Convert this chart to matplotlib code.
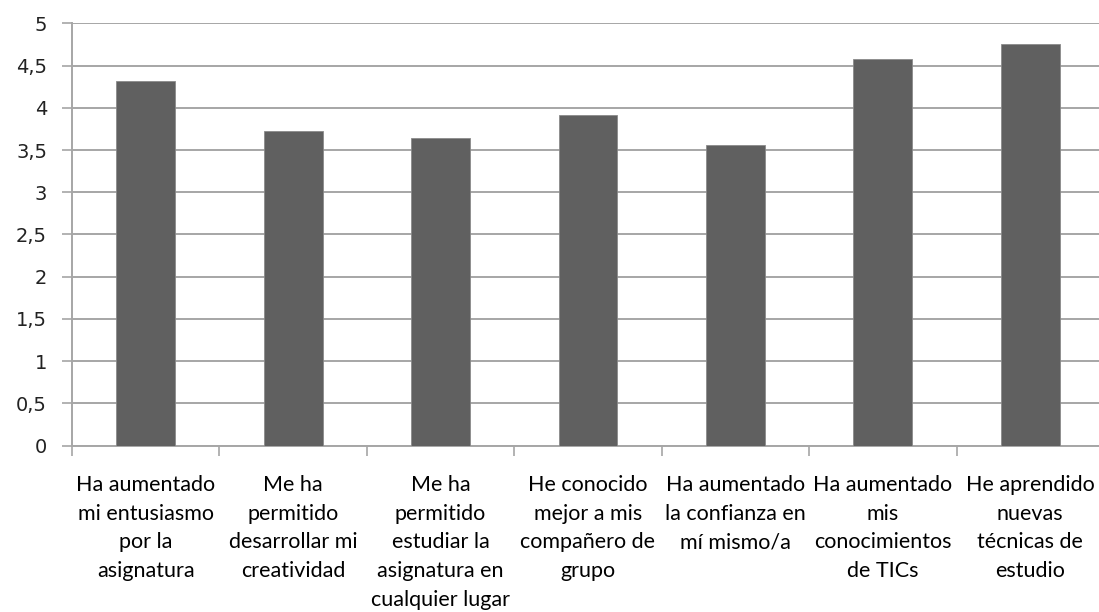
import matplotlib.pyplot as plt
from matplotlib.ticker import FixedLocator, FuncFormatter

categories = [
    "Ha aumentado\nmi entusiasmo\npor la\nasignatura",
    "Me ha\npermitido\ndesarrollar mi\ncreatividad",
    "Me ha\npermitido\nestudiar la\nasignatura en\ncualquier lugar",
    "He conocido\nmejor a mis\ncompañero de\ngrupo",
    "Ha aumentado\nla confianza en\nmí mismo/a",
    "Ha aumentado\nmis\nconocimientos\nde TICs",
    "He aprendido\nnuevas\ntécnicas de\nestudio",
]
values = [4.32, 3.73, 3.64, 3.91, 3.56, 4.58, 4.76]
yticks = [0, 0.5, 1, 1.5, 2, 2.5, 3, 3.5, 4, 4.5, 5]

grey = "#a6a6a6"

fig = plt.figure(figsize=(10.99, 6.12), dpi=100)
ax = fig.add_axes([72 / 1099, 1 - 445.7 / 612, 1032 / 1099, 422.4 / 612])

x = list(range(len(categories)))
ax.bar(x, values, width=0.4, color="#606060", edgecolor="#8a8a8a", linewidth=0.6, zorder=3)

ax.set_xlim(-0.5, len(categories) - 0.5)
ax.set_ylim(0, 5)

# horizontal grid
ax.set_yticks(yticks)
ax.yaxis.set_major_formatter(FuncFormatter(lambda v, p: ("%g" % v).replace(".", ",")))
ax.grid(axis="y", color=grey, linewidth=1.4, zorder=0)
ax.tick_params(axis="y", length=7, width=1.2, color=grey, pad=11, labelsize=14,
               labelcolor="#222222")

# category labels at centers, tick marks between categories
ax.set_xticks(x)
ax.set_xticklabels(categories, fontsize=15.5, family="Lato", linespacing=1.55)
ax.tick_params(axis="x", which="major", length=0, pad=21, labelcolor="black")
ax.xaxis.set_minor_locator(FixedLocator([i - 0.5 for i in range(len(categories) + 1)]))
ax.tick_params(axis="x", which="minor", length=7, width=1.2, color=grey)

for s in ["top", "right"]:
    ax.spines[s].set_visible(False)
for s in ["left", "bottom"]:
    ax.spines[s].set_color(grey)
    ax.spines[s].set_linewidth(1.4)

fig.savefig("out.png", dpi=100)
